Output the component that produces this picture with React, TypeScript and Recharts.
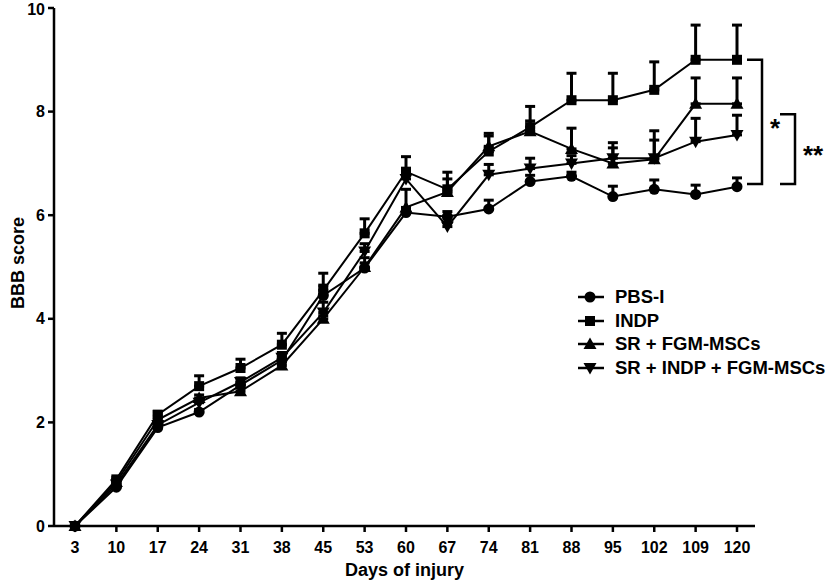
import { ErrorBar, Legend, Line, LineChart, ReferenceLine, XAxis, YAxis } from "recharts";

const days = ["3", "10", "17", "24", "31", "38", "45", "53", "60", "67", "74", "81", "88", "95", "102", "109", "120"];

// BBB score means and upper SEM
const pbsMean = [0, 0.75, 1.9, 2.2, 2.72, 3.2, 4.45, 4.98, 6.05, 5.97, 6.12, 6.65, 6.75, 6.36, 6.5, 6.4, 6.55];
const pbsErr = [0, 0.04, 0.04, 0.05, 0.06, 0.08, 0.2, 0.1, 0.06, 0.1, 0.17, 0.12, 0.08, 0.2, 0.18, 0.18, 0.17];

const indpMean = [0, 0.9, 2.15, 2.7, 3.05, 3.5, 4.55, 5.65, 6.84, 6.5, 7.23, 7.7, 8.22, 8.22, 8.42, 9.0, 9.0];
const indpErr = [0, 0.04, 0.06, 0.2, 0.17, 0.22, 0.33, 0.28, 0.29, 0.33, 0.3, 0.4, 0.52, 0.52, 0.54, 0.67, 0.67];

const srMean = [0, 0.85, 2.05, 2.47, 2.6, 3.1, 4.0, 5.0, 6.15, 6.45, 7.33, 7.62, 7.28, 7.0, 7.08, 8.15, 8.15];
const srErr = [0, 0.04, 0.05, 0.06, 0.06, 0.06, 0.06, 0.18, 0.35, 0.25, 0.25, 0.2, 0.4, 0.3, 0.55, 0.5, 0.5];

const srIndpMean = [0, 0.8, 1.95, 2.38, 2.78, 3.25, 4.12, 5.3, 6.7, 5.78, 6.78, 6.9, 7.0, 7.1, 7.1, 7.42, 7.55];
const srIndpErr = [0, 0.04, 0.05, 0.06, 0.08, 0.1, 0.2, 0.15, 0.1, 0.08, 0.2, 0.2, 0.15, 0.3, 0.35, 0.45, 0.38];

const yTicks = [0, 2, 4, 6, 8, 10];

const series = [
  { key: "pbs", name: "PBS-I", mean: pbsMean, err: pbsErr, shape: "circle" },
  { key: "indp", name: "INDP", mean: indpMean, err: indpErr, shape: "square" },
  { key: "sr", name: "SR + FGM-MSCs", mean: srMean, err: srErr, shape: "up" },
  { key: "srIndp", name: "SR + INDP + FGM-MSCs", mean: srIndpMean, err: srIndpErr, shape: "down" },
];

// significance brackets (score range spanned, label)
const brackets = [
  { top: 9.0, bottom: 6.6, label: "*" },
  { top: 7.95, bottom: 6.6, label: "**" },
];

const rows = days.map((day, i) => {
  const row: Record<string, any> = { day };
  series.forEach((s) => {
    row[s.key] = s.mean[i];
    row[s.key + "Err"] = [0, s.err[i]];
  });
  return row;
});

const FONT = "'Liberation Sans', Arial, sans-serif";

function Marker({ cx, cy, shape }: { cx: number; cy: number; shape: string }) {
  if (cx == null || cy == null) return null;
  if (shape === "circle") return <circle cx={cx} cy={cy} r={5.5} fill="#000" />;
  if (shape === "square") return <rect x={cx - 5} y={cy - 5} width={10} height={10} fill="#000" />;
  if (shape === "up")
    return <polygon points={`${cx},${cy - 6.5} ${cx + 6.5},${cy + 5} ${cx - 6.5},${cy + 5}`} fill="#000" />;
  return <polygon points={`${cx},${cy + 6.5} ${cx + 6.5},${cy - 5} ${cx - 6.5},${cy - 5}`} fill="#000" />;
}

function LegendBox({ payload }: any) {
  const items = series.filter((s) => (payload || []).some((e: any) => e.value === s.name));
  return (
    <div style={{ fontFamily: FONT, fontWeight: 700, fontSize: 18.5 }}>
      {items.map((s) => (
        <div key={s.key} style={{ display: "flex", alignItems: "center", height: 23.7 }}>
          <svg width={40} height={24}>
            <line x1={3} y1={12} x2={29} y2={12} stroke="#000" strokeWidth={2.5} />
            <Marker cx={15} cy={12} shape={s.shape} />
          </svg>
          <span style={{ color: "#000" }}>{s.name}</span>
        </div>
      ))}
    </div>
  );
}

function bracketShape(label: string, gap: number) {
  return (p: any) => {
    const a = p.x1 + gap;
    const b = a + 15;
    const top = Math.min(p.y1, p.y2);
    const bottom = Math.max(p.y1, p.y2);
    return (
      <g>
        <path d={`M${a},${top} H${b} V${bottom} H${a}`} stroke="#000" strokeWidth={2.5} fill="none" />
        <text x={b + 8} y={(top + bottom) / 2 + 15} fontFamily={FONT} fontWeight={700} fontSize={26} fill="#000">
          {label}
        </text>
      </g>
    );
  };
}

const tickStyle = { fontFamily: FONT, fontWeight: 700, fontSize: 16, fill: "#000" };

export default function App() {
  return (
    <div style={{ position: "absolute", left: 0, top: 0, width: 829, height: 584, background: "#fff" }}>
      <LineChart width={829} height={584} data={rows} margin={{ top: 8, right: 74, bottom: 0, left: 0 }}>
        <XAxis
          dataKey="day"
          interval={0}
          padding={{ left: 21, right: 18 }}
          height={58}
          tickSize={6}
          tickMargin={10}
          tick={tickStyle}
          axisLine={{ stroke: "#000", strokeWidth: 2.5 }}
          tickLine={{ stroke: "#000", strokeWidth: 2.5 }}
          label={{
            content: ({ viewBox }: any) => (
              <text
                x={viewBox.x + viewBox.width / 2}
                y={viewBox.y + 50}
                textAnchor="middle"
                fontFamily={FONT}
                fontWeight={700}
                fontSize={18}
                fill="#000"
              >
                Days of injury
              </text>
            ),
          }}
        />
        <YAxis
          width={54}
          domain={[0, 10]}
          ticks={yTicks}
          tickSize={6}
          tickMargin={3}
          tick={tickStyle}
          axisLine={{ stroke: "#000", strokeWidth: 2.5 }}
          tickLine={{ stroke: "#000", strokeWidth: 2.5 }}
          label={{
            content: ({ viewBox }: any) => {
              const x = viewBox.x + 18;
              const y = viewBox.y + viewBox.height / 2 - 4;
              return (
                <text
                  x={x}
                  y={y}
                  transform={`rotate(-90 ${x} ${y})`}
                  textAnchor="middle"
                  dominantBaseline="central"
                  fontFamily={FONT}
                  fontWeight={700}
                  fontSize={18}
                  fill="#000"
                >
                  BBB score
                </text>
              );
            },
          }}
        />
        {series.map((s) => (
          <Line
            key={s.key}
            type="linear"
            dataKey={s.key}
            name={s.name}
            stroke="#000"
            strokeWidth={2}
            isAnimationActive={false}
            activeDot={false}
            dot={(p: any) => <Marker key={`${s.key}-${p.index}`} cx={p.cx} cy={p.cy} shape={s.shape} />}
          >
            <ErrorBar dataKey={s.key + "Err"} direction="y" width={5} stroke="#000" strokeWidth={3} isAnimationActive={false} />
          </Line>
        ))}
        {brackets.map((br, i) => (
          <ReferenceLine
            key={br.label}
            segment={[
              { x: days[days.length - 1], y: br.top },
              { x: days[days.length - 1], y: br.bottom },
            ]}
            ifOverflow="visible"
            shape={bracketShape(br.label, i === 0 ? 10 : 43)}
          />
        ))}
        <Legend
          layout="vertical"
          align="center"
          verticalAlign="middle"
          content={<LegendBox />}
          wrapperStyle={{ left: 575, top: 285, width: 260 }}
        />
      </LineChart>
    </div>
  );
}
